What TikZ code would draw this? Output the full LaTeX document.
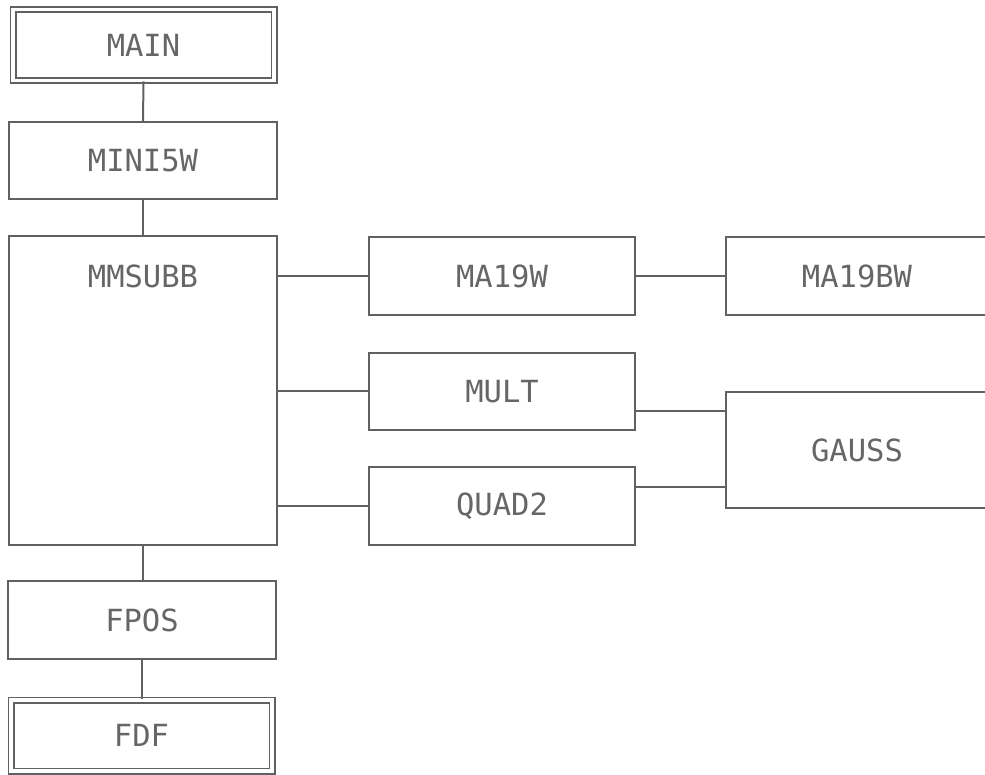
\documentclass[tikz,border=0pt]{standalone}
\usepackage{fontspec}
\newfontfamily\plotfont{DejaVu Sans Mono}
\usetikzlibrary{calc}
\tikzset{
  ink/.style={draw=black!62, line width=2pt},
  box/.style={ink, rectangle, inner sep=0pt, text=black!60,
    font=\plotfont\fontsize{30.5}{30.5}\selectfont},
  dbox/.style={box, double, double distance=3.4pt, line width=1.8pt},
  wire/.style={ink}
}
\begin{document}
\begin{tikzpicture}[x=1pt,y=-1pt]
\useasboundingbox (0,0) rectangle (985,774);
\clip (0,0) rectangle (985,774);
\node[dbox, minimum width=261pt, minimum height=71pt] (main) at (143.5,45) {MAIN};
\node[box, minimum width=268pt, minimum height=77pt] (mini) at (143,160.5) {MINI5W};
\node[box, minimum width=268pt, minimum height=309pt] (mmsubb) at (143,390.5) {};
\node[text=black!60, font=\plotfont\fontsize{30.5}{30.5}\selectfont] (mmsubbtxt) at (143,276) {MMSUBB};
\node[box, minimum width=268pt, minimum height=78pt] (fpos) at (142,620) {FPOS};
\node[dbox, minimum width=261pt, minimum height=71pt] (fdf) at (141.5,735.5) {FDF};
\node[box, minimum width=266pt, minimum height=78pt] (ma19w) at (502,276) {MA19W};
\node[box, minimum width=266pt, minimum height=77pt] (mult) at (502,391.5) {MULT};
\node[box, minimum width=266pt, minimum height=78pt] (quad) at (502,506) {QUAD2};
\node[box, minimum width=262pt, minimum height=78pt] (ma19bw) at (857,276) {MA19BW};
\node[box, minimum width=262pt, minimum height=116pt] (gauss) at (857,450) {GAUSS};
\coordinate (g1) at ([yshift=39pt]gauss.west);
\coordinate (g2) at ([yshift=-37pt]gauss.west);
\coordinate (m1) at ([yshift=0.5pt]mult.west);
\draw[wire] (main.south) -- (mini.north);
\draw[wire] (mini.south) -- (mmsubb.north);
\draw[wire] (mmsubb.south) -- (fpos.north -| mmsubb.south);
\draw[wire] (fpos.south) -- (fdf.north -| fpos.south);
\draw[wire] (mmsubb.east |- ma19w.west) -- (ma19w.west);
\draw[wire] (mmsubb.east |- m1) -- (m1);
\draw[wire] (mmsubb.east |- quad.west) -- (quad.west);
\draw[wire] (ma19w.east) -- (ma19bw.west);
\draw[wire] (mult.east |- g1) -- (g1);
\draw[wire] (quad.east |- g2) -- (g2);
\end{tikzpicture}
\end{document}
